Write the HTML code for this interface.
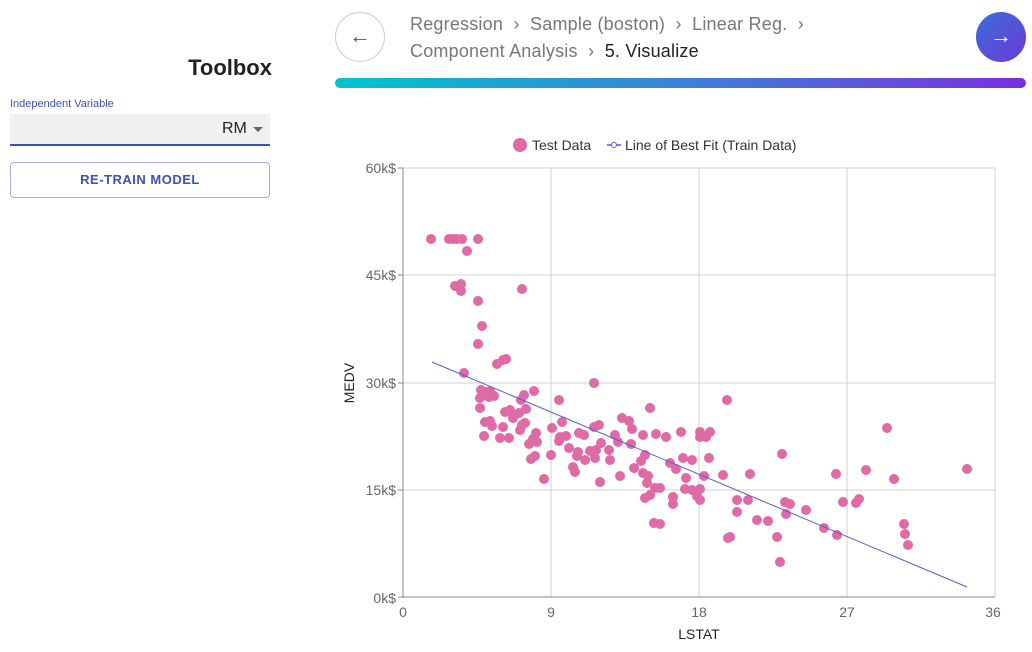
<!DOCTYPE html>
<html><head><meta charset="utf-8"><style>
body{margin:0;width:1032px;height:652px;background:#fff;font-family:"Liberation Sans",sans-serif;position:relative;overflow:hidden}
.abs{position:absolute}
</style></head><body>
<div class="abs" style="right:760px;top:55px;font-size:22px;font-weight:bold;color:#222">Toolbox</div>
<div class="abs" style="left:10px;top:98px;font-size:11px;color:#3f51b5">Independent Variable</div>
<div class="abs" style="left:10px;top:114px;width:260px;height:30px;background:#f0f0f0;border-bottom:2px solid #3f51b5"></div>
<div class="abs" style="left:222px;top:120px;font-size:16px;color:#222">RM</div>
<div class="abs" style="left:253px;top:127px;width:0;height:0;border-left:5px solid transparent;border-right:5px solid transparent;border-top:5px solid #666"></div>
<div class="abs" style="left:10px;top:162px;width:258px;height:34px;border:1px solid #aab0d8;border-radius:4px;text-align:center;line-height:34px;font-size:13px;font-weight:bold;color:#3f51b5;letter-spacing:0.5px">RE-TRAIN MODEL</div>
<div class="abs" style="left:335px;top:12px;width:48px;height:48px;border:1px solid #ccc;border-radius:50%;text-align:center;line-height:46px;font-size:22px;color:#555">&#8592;</div>
<div class="abs" style="left:976px;top:12px;width:50px;height:50px;border-radius:50%;background:linear-gradient(135deg,#3a6ed8,#6a3ad8);text-align:center;line-height:48px;font-size:22px;color:#fff">&#8594;</div>
<div class="abs" style="left:410px;top:11px;font-size:18px;color:#777;line-height:27px;letter-spacing:0.2px">Regression &nbsp;›&nbsp; Sample (boston) &nbsp;›&nbsp; Linear Reg. &nbsp;›<br>Component Analysis &nbsp;›&nbsp; <span style="color:#222">5. Visualize</span></div>
<div class="abs" style="left:335px;top:78px;width:691px;height:10px;border-radius:5px;background:linear-gradient(90deg,#00c4cc,#3b82d8,#7b2fe0)"></div>
<svg class="abs" style="left:0;top:0" width="1032" height="652" font-family="Liberation Sans, sans-serif">
<circle cx="520" cy="145" r="7" fill="#e06aa6"/>
<text x="532" y="150" font-size="14" fill="#333">Test Data</text>
<line x1="607" y1="145" x2="621" y2="145" stroke="#5b5bd6" stroke-width="1.5"/><circle cx="614" cy="145" r="2.5" fill="#fff" stroke="#5b5bd6"/>
<text x="625" y="150" font-size="14" fill="#333">Line of Best Fit (Train Data)</text>
<g stroke="#d0d0d0" stroke-width="1">
<line x1="403" y1="168" x2="995" y2="168"/><line x1="403" y1="275" x2="995" y2="275"/><line x1="403" y1="383" x2="995" y2="383"/><line x1="403" y1="490" x2="995" y2="490"/>
<line x1="551" y1="168" x2="551" y2="597"/><line x1="699" y1="168" x2="699" y2="597"/><line x1="847" y1="168" x2="847" y2="597"/><line x1="995" y1="168" x2="995" y2="597"/>
</g>
<g stroke="#888"><line x1="403" y1="168" x2="403" y2="598"/><line x1="403" y1="597" x2="995" y2="597"/>
<line x1="398" y1="168" x2="403" y2="168"/><line x1="398" y1="275" x2="403" y2="275"/><line x1="398" y1="383" x2="403" y2="383"/><line x1="398" y1="490" x2="403" y2="490"/><line x1="398" y1="597" x2="403" y2="597"/></g>
<g font-size="14" fill="#666" text-anchor="end">
<text x="396" y="173">60k$</text><text x="396" y="280">45k$</text><text x="396" y="388">30k$</text><text x="396" y="495">15k$</text><text x="396" y="603">0k$</text></g>
<g font-size="14" fill="#666" text-anchor="middle">
<text x="403" y="617">0</text><text x="551" y="617">9</text><text x="699" y="617">18</text><text x="847" y="617">27</text><text x="993" y="617">36</text></g>
<text x="699" y="639" font-size="14" fill="#222" text-anchor="middle">LSTAT</text>
<text x="354" y="383" font-size="14" fill="#222" text-anchor="middle" transform="rotate(-90 354 383)">MEDV</text>
<g fill="#e06aa6" id="pts"></g>
<line x1="432" y1="362" x2="967" y2="587" stroke="#5b5bd6" stroke-width="1"/>
</svg>
<script>
var p=[[431,239],[449,239],[453,239],[457,239],[462,239],[478,239],[467,251],[455,286],[461,284],[461,291],[478,301],[482,326],[478,344],[464,373],[497,364],[503,360],[506,359],[522,289],[481,390],[486,392],[490,391],[489,397],[480,398],[494,396],[485,422],[480,408],[490,421],[484,436],[492,426],[500,438],[509,438],[503,427],[505,412],[510,410],[513,418],[519,413],[521,400],[524,395],[526,409],[534,391],[520,430],[522,425],[525,423],[529,444],[533,439],[531,459],[536,433],[537,442],[535,456],[544,479],[552,428],[551,455],[559,400],[562,422],[560,437],[559,441],[566,436],[569,448],[573,467],[575,472],[579,433],[594,383],[594,427],[599,425],[601,443],[596,450],[595,458],[609,450],[615,435],[610,460],[600,482],[620,476],[622,418],[618,442],[629,421],[632,429],[631,444],[634,468],[643,435],[643,473],[647,483],[650,408],[656,434],[645,455],[641,461],[645,498],[650,495],[655,488],[648,476],[660,488],[660,524],[670,463],[666,437],[673,497],[673,504],[676,469],[681,432],[685,489],[686,478],[683,458],[692,460],[692,490],[697,496],[700,432],[700,489],[704,476],[700,500],[710,432],[709,458],[723,475],[727,400],[728,538],[730,537],[737,512],[737,500],[748,500],[750,474],[757,520],[768,521],[777,537],[782,454],[780,562],[785,502],[786,514],[790,504],[806,510],[824,528],[836,474],[837,535],[843,502],[856,503],[859,499],[866,470],[887,428],[894,479],[904,524],[905,534],[908,545],[967,469],[700,437],[706,437],[654,523],[584,435],[585,460],[578,452],[577,456],[590,451]];
var g=document.getElementById('pts'),s='';
p.forEach(function(a){s+='<circle cx="'+a[0]+'" cy="'+a[1]+'" r="5"/>';});
g.innerHTML=s;
</script>
</body></html>
